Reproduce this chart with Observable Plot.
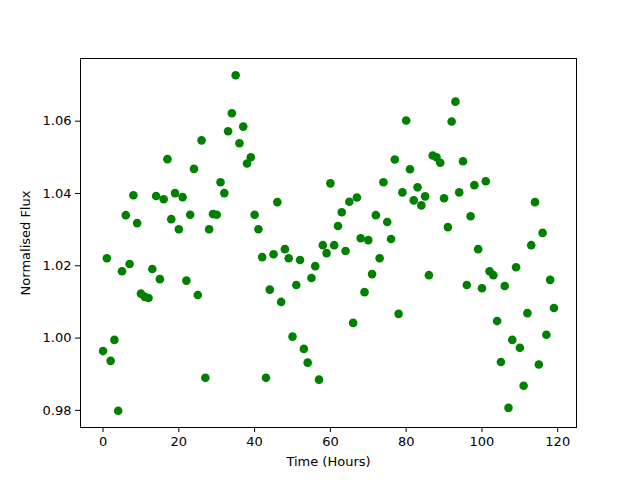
<!DOCTYPE html>
<html>
<head>
<meta charset="utf-8">
<script src="https://cdn.jsdelivr.net/npm/d3@7"></script>
<script src="https://cdn.jsdelivr.net/npm/@observablehq/plot@0.6"></script>
<style>
  html, body { margin: 0; padding: 0; background: #fff; }
</style>
</head>
<body>
<div id="chart"></div>
<script>
const hours = [
  0,1,2,3,4,5,6,7,8,9,10,11,12,13,14,15,16,17,18,19,
  20,21,22,23,24,25,26,27,28,29,30,31,32,33,34,35,36,37,38,39,
  40,41,42,43,44,45,46,47,48,49,50,51,52,53,54,55,56,57,58,59,
  60,61,62,63,64,65,66,67,68,69,70,71,72,73,74,75,76,77,78,79,
  80,81,82,83,84,85,86,87,88,89,90,91,92,93,94,95,96,97,98,99,
  100,101,102,103,104,105,106,107,108,109,110,111,112,113,114,115,116,117,118,119
];
const flux = [
  0.9964,1.0221,0.9937,0.9995,0.9799,1.0185,1.0340,1.0205,1.0395,1.0318,
  1.0123,1.0114,1.0111,1.0191,1.0393,1.0163,1.0384,1.0495,1.0329,1.0401,
  1.0301,1.0390,1.0159,1.0341,1.0468,1.0119,1.0547,0.9890,1.0301,1.0343,
  1.0341,1.0431,1.0401,1.0572,1.0622,1.0727,1.0539,1.0585,1.0483,1.0500,
  1.0341,1.0301,1.0224,0.9890,1.0134,1.0232,1.0376,1.0100,1.0246,1.0221,
  1.0004,1.0147,1.0216,0.9970,0.9932,1.0166,1.0199,0.9885,1.0257,1.0235,
  1.0428,1.0257,1.0310,1.0348,1.0241,1.0377,1.0042,1.0389,1.0276,1.0127,
  1.0271,1.0177,1.0340,1.0221,1.0431,1.0321,1.0274,1.0494,1.0067,1.0403,
  1.0602,1.0467,1.0381,1.0417,1.0367,1.0392,1.0174,1.0505,1.0500,1.0485,
  1.0387,1.0307,1.0599,1.0654,1.0403,1.0489,1.0147,1.0337,1.0423,1.0246,
  1.0138,1.0434,1.0185,1.0174,1.0047,0.9934,1.0144,0.9807,0.9995,1.0196,
  0.9973,0.9868,1.0069,1.0257,1.0376,0.9927,1.0291,1.0009,1.0161,1.0083
];
const xTicks = [0, 20, 40, 60, 80, 100, 120];
const yTicks = [0.98, 1.00, 1.02, 1.04, 1.06];
const xLabel = "Time (Hours)";
const yLabel = "Normalised Flux";

const data = hours.map((h, i) => ({hour: h, flux: flux[i]}));

const xMin = d3.min(hours), xMax = d3.max(hours);
const yMin = d3.min(flux), yMax = d3.max(flux);
const xPad = (xMax - xMin) * 0.05, yPad = (yMax - yMin) * 0.05;

const chart = Plot.plot({
  width: 640,
  height: 480,
  marginLeft: 80,
  marginRight: 64,
  marginTop: 58,
  marginBottom: 53,
  style: {fontFamily: "DejaVu Sans", fontSize: "13px", background: "#fff", color: "#000"},
  x: {domain: [xMin - xPad, xMax + xPad]},
  y: {domain: [yMin - yPad, yMax + yPad]},
  marks: [
    Plot.axisX({ticks: xTicks, tickSize: 5, tickPadding: 4, tickFormat: d => String(d),
      label: xLabel, labelAnchor: "center", labelArrow: "none", labelOffset: 38}),
    Plot.axisY({ticks: yTicks, tickSize: 5, tickPadding: 4, tickFormat: d3.format(".2f"),
      label: yLabel, labelAnchor: "center", labelArrow: "none", labelOffset: 60}),
    Plot.dot(data, {x: "hour", y: "flux", r: 4.3, fill: "#008000", stroke: "none"}),
    Plot.frame({stroke: "#000", strokeWidth: 1})
  ]
});
document.getElementById("chart").appendChild(chart);
</script>
</body>
</html>
